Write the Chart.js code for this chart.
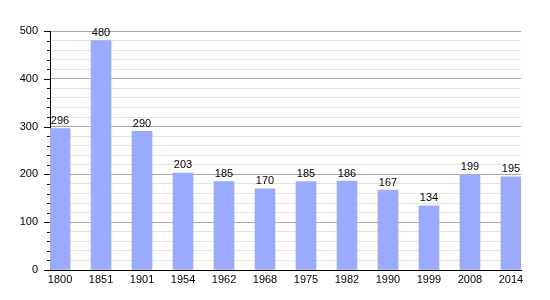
<!DOCTYPE html>
<html>
<head>
<meta charset="utf-8">
<script src="https://cdn.jsdelivr.net/npm/chart.js@4/dist/chart.umd.min.js"></script>
<style>
  html, body { margin: 0; padding: 0; background: #ffffff; }
  #wrap { width: 550px; height: 300px; position: relative; }
</style>
</head>
<body>
<div id="wrap"><canvas id="chart"></canvas></div>
<script>
// population by census year
const years = ['1800', '1851', '1901', '1954', '1962', '1968', '1975', '1982', '1990', '1999', '2008', '2014'];
const population = [296, 480, 290, 203, 185, 170, 185, 186, 167, 134, 199, 195];
const yMax = 500;
const yStep = 20;

const barColor = 'rgb(153, 170, 255)';
const fontFamily = '"Liberation Sans", Arial, Helvetica, sans-serif';

// value labels above each bar
const valueLabels = {
    id: 'valueLabels',
    afterDatasetsDraw(chart) {
        const ctx = chart.ctx;
        ctx.save();
        ctx.font = '11px ' + fontFamily;
        ctx.fillStyle = '#000000';
        ctx.textAlign = 'center';
        ctx.textBaseline = 'bottom';
        chart.getDatasetMeta(0).data.forEach((bar, i) => {
            ctx.fillText(String(population[i]), bar.x, bar.y - 2);
        });
        ctx.restore();
    }
};

// short ticks for minor steps, longer ones for each hundred
const axisTicks = {
    id: 'axisTicks',
    afterDraw(chart) {
        const y = chart.scales.y;
        const ctx = chart.ctx;
        ctx.save();
        ctx.strokeStyle = '#000000';
        ctx.lineWidth = 1;
        y.ticks.forEach(t => {
            const py = Math.round(y.getPixelForValue(t.value)) + 0.5;
            const len = t.value % 100 === 0 ? 6 : 3;
            ctx.beginPath();
            ctx.moveTo(y.right - len, py);
            ctx.lineTo(y.right, py);
            ctx.stroke();
        });
        ctx.restore();
    }
};

const ctx = document.getElementById('chart').getContext('2d');

new Chart(ctx, {
    type: 'bar',
    data: {
        datasets: [{
            data: population.map((v, i) => ({ x: i, y: v })),
            backgroundColor: barColor,
            borderWidth: 0,
            barThickness: 20
        }]
    },
    options: {
        responsive: true,
        maintainAspectRatio: false,
        animation: false,
        layout: { padding: { top: 31, right: 29, bottom: 0, left: 0 } },
        plugins: {
            legend: { display: false },
            tooltip: { enabled: false }
        },
        scales: {
            x: {
                type: 'linear',
                offset: false,
                min: -0.245,
                max: years.length - 1 + 0.245,
                afterBuildTicks: scale => {
                    scale.ticks = years.map((_, i) => ({ value: i }));
                },
                afterFit: scale => { scale.height = 30; },
                ticks: {
                    color: '#000000',
                    font: { family: fontFamily, size: 11 },
                    padding: 3,
                    maxRotation: 0,
                    autoSkip: false,
                    callback: v => years[v]
                },
                grid: { display: false, drawTicks: false, offset: false },
                border: { display: true, color: '#000000', width: 1 }
            },
            y: {
                min: 0,
                max: yMax,
                afterFit: scale => { scale.width = 50; },
                ticks: {
                    stepSize: yStep,
                    color: '#000000',
                    font: { family: fontFamily, size: 11 },
                    padding: 12,
                    autoSkip: false,
                    callback: v => (v % 100 === 0 ? String(v) : '')
                },
                grid: {
                    drawTicks: false,
                    color: c => (c.tick && c.tick.value % 100 === 0 ? '#a8a8a8' : '#e4e4e4'),
                    lineWidth: 1
                },
                border: { display: true, color: '#000000', width: 1 }
            }
        }
    },
    plugins: [valueLabels, axisTicks]
});
</script>
</body>
</html>
